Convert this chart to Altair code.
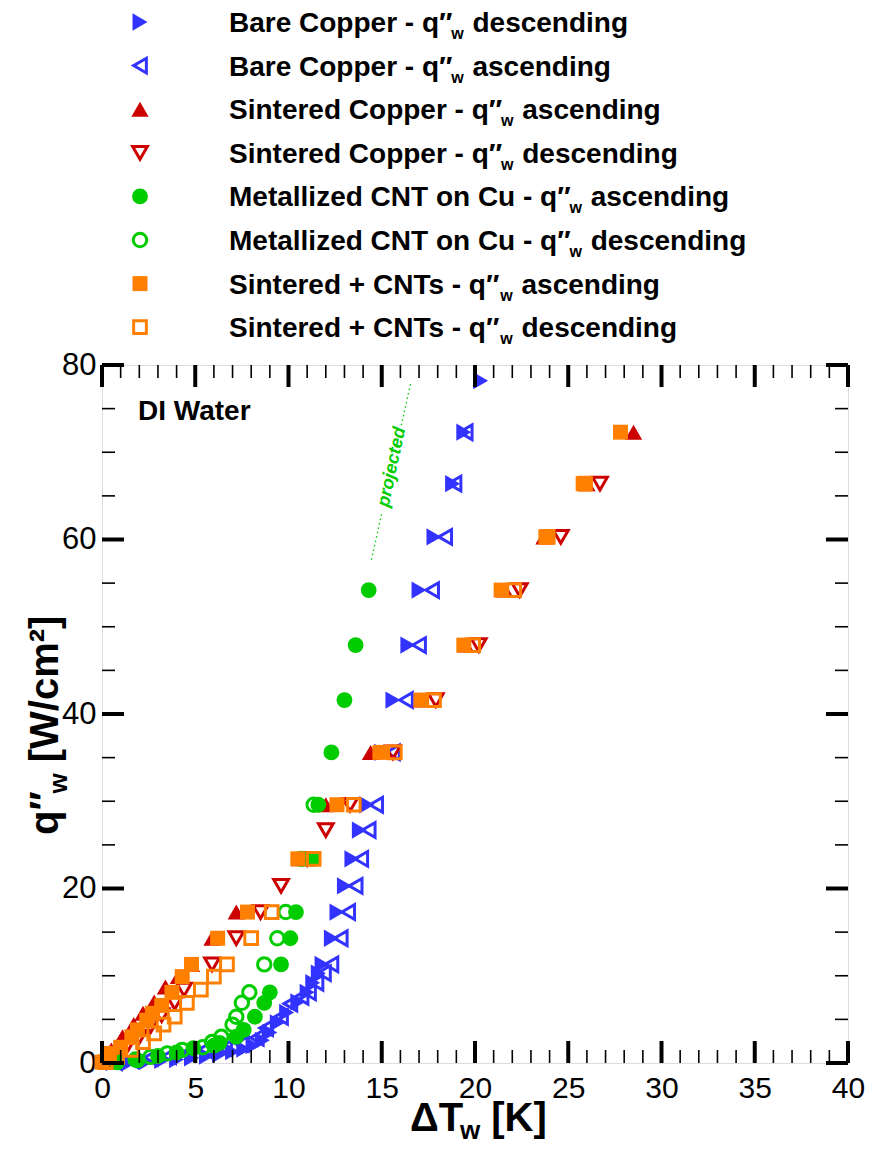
import altair as alt
import pandas as pd

# ---------------- data ----------------
bare_desc_x = [20.3, 19.4, 18.8, 17.8, 17.0, 16.4, 15.6, 15.0, 14.2, 13.8, 13.4, 13.0, 12.6, 12.3, 11.8, 11.6, 11.3,
               11.0, 10.5, 9.9, 9.4, 9.0, 8.6, 8.1, 7.6, 7.0, 6.3, 5.6, 4.8, 4.0, 3.2, 2.4, 1.5, 0.6]
bare_desc_y = [78.2, 72.3, 66.4, 60.3, 54.2, 47.9, 41.6, 35.6, 29.6, 26.7, 23.4, 20.3, 17.3, 14.3, 11.3, 10.3, 9.2,
               8.1, 7.0, 5.8, 4.6, 3.5, 2.6, 2.0, 1.6, 1.3, 1.0, 0.8, 0.6, 0.4, 0.3, 0.2, 0.1, 0.05]

bare_asc_x = [19.5, 18.9, 18.4, 17.7, 17.0, 16.3, 15.6, 14.7, 14.3, 13.9, 13.6, 13.2, 12.8, 12.3, 11.9, 11.5, 11.1,
              10.7, 10.1, 9.6, 8.8, 8.3, 7.5, 6.6, 5.5, 4.6, 3.6, 2.6, 1.6, 0.7]
bare_asc_y = [72.3, 66.4, 60.3, 54.2, 47.9, 41.6, 35.6, 29.6, 26.7, 23.4, 20.3, 17.3, 14.3, 11.3, 10.3, 9.2, 8.1,
              7.6, 6.8, 5.3, 4.0, 2.9, 2.2, 1.7, 1.5, 1.1, 0.8, 0.6, 0.3, 0.1]

sint_asc_x = [28.5, 26.0, 23.7, 21.6, 19.5, 17.1, 14.4, 12.0, 10.6, 7.2, 5.9, 4.8, 4.1, 3.4, 2.8, 2.2, 1.7, 1.1, 0.5, 0.1]
sint_asc_y = [72.3, 66.4, 60.3, 54.2, 47.9, 41.6, 35.6, 29.6, 23.4, 17.3, 14.3, 11.3, 9.9, 8.7, 7.0, 5.7, 4.4, 3.0, 1.5, 0.2]

sint_desc_x = [26.7, 24.6, 22.4, 20.2, 17.9, 15.6, 13.3, 12.0, 11.0, 9.6, 8.5, 7.2, 5.9, 4.4, 3.9, 3.2, 2.6, 2.0, 1.3, 0.6]
sint_desc_y = [66.4, 60.3, 54.2, 47.9, 41.6, 35.6, 29.6, 26.7, 23.4, 20.3, 17.3, 14.3, 11.3, 8.4, 6.9, 5.5, 4.2, 3.0, 1.8, 0.7]

mcnt_asc_x = [14.3, 13.6, 13.0, 12.3, 11.6, 11.3, 10.4, 10.1, 9.6, 9.0, 8.7, 8.2, 7.6, 7.2, 6.3, 6.0, 4.9, 4.0, 3.0, 1.9, 0.8]
mcnt_asc_y = [54.2, 47.9, 41.6, 35.6, 29.6, 23.4, 17.3, 14.3, 11.3, 8.1, 6.9, 5.3, 3.8, 3.0, 2.3, 2.0, 1.7, 1.2, 0.8, 0.3, 0.1]

mcnt_desc_x = [11.35, 10.7, 9.85, 9.4, 8.7, 7.9, 7.5, 7.2, 7.0, 6.4, 5.9, 5.4, 4.3, 3.5, 2.6, 1.8, 0.8]
mcnt_desc_y = [29.6, 23.4, 17.3, 14.3, 11.3, 8.1, 6.9, 5.3, 4.4, 3.0, 2.4, 1.8, 1.5, 1.1, 0.7, 0.4, 0.1]

sc_asc_x = [27.8, 25.8, 23.8, 21.4, 19.4, 17.1, 14.9, 12.6, 10.5, 7.8, 6.2, 4.8, 4.3, 3.75, 3.2, 2.7, 2.4, 1.9, 1.6, 1.0, 0.4, 0.0]
sc_asc_y = [72.3, 66.4, 60.3, 54.2, 47.9, 41.6, 35.6, 29.6, 23.4, 17.3, 14.3, 11.3, 9.9, 8.1, 6.6, 5.7, 4.9, 3.8, 3.0, 1.8, 1.1, 0.1]

sc_desc_x = [25.9, 23.9, 22.1, 19.9, 17.8, 15.7, 13.5, 11.35, 9.1, 8.0, 6.7, 6.0, 5.3, 4.55, 3.9, 3.3, 2.8, 2.2, 1.6, 0.8, 0.2]
sc_desc_y = [66.4, 60.3, 54.2, 47.9, 41.6, 35.6, 29.6, 23.4, 17.3, 14.3, 11.3, 9.9, 8.4, 6.9, 5.3, 4.4, 3.4, 2.4, 1.5, 0.7, 0.1]

# dotted "projected" extension of the Metallized CNT curve (two pieces around the label)
proj_x = [14.45, 15.02, 16.05, 16.55]
proj_y = [57.7, 63.2, 73.1, 77.9]
proj_seg = ["a", "a", "b", "b"]

x_major = [0, 5, 10, 15, 20, 25, 30, 35, 40]
x_minor = [v for v in range(0, 41) if v % 5 != 0]
y_major = [0, 20, 40, 60, 80]
y_minor = [v for v in range(0, 81, 5) if v % 20 != 0]

legend_names = ["Bare Copper - q″", "Bare Copper - q″", "Sintered Copper - q″", "Sintered Copper - q″",
                "Metallized CNT on Cu - q″", "Metallized CNT on Cu - q″", "Sintered + CNTs - q″", "Sintered + CNTs - q″"]
legend_modes = ["descending", "ascending", "ascending", "descending",
                "ascending", "descending", "ascending", "descending"]

# ---------------- styles / layout ----------------
FONT = "Liberation Sans"
BLUE, RED, GREEN, ORANGE = "#3333FF", "#CC0000", "#00CC00", "#FF8000"
W, H = 746, 698

series = [
    (bare_desc_x, bare_desc_y, "triangle-right", True, BLUE),
    (bare_asc_x, bare_asc_y, "triangle-left", False, BLUE),
    (sint_asc_x, sint_asc_y, "triangle-up", True, RED),
    (sint_desc_x, sint_desc_y, "triangle-down", False, RED),
    (mcnt_asc_x, mcnt_asc_y, "circle", True, GREEN),
    (mcnt_desc_x, mcnt_desc_y, "circle", False, GREEN),
    (sc_asc_x, sc_asc_y, "square", True, ORANGE),
    (sc_desc_x, sc_desc_y, "square", False, ORANGE),
]

def msize(shape, filled):
    base = {"circle": 250, "square": 225}.get(shape, 300)
    return base if filled else int(base * 0.72)

# Arial / Liberation Sans Bold advance widths (per 1000 em)
AB = {' ': 278, '-': 333, '+': 584, '[': 333, ']': 333, '/': 278, '″': 400, '²': 333, 'Δ': 612,
      'A': 722, 'B': 722, 'C': 722, 'D': 722, 'I': 278, 'K': 722, 'M': 833, 'N': 722, 'S': 667,
      'T': 611, 'W': 944, 'a': 556, 'c': 556, 'd': 611, 'e': 556, 'g': 611, 'i': 278, 'l': 278,
      'm': 889, 'n': 611, 'o': 611, 'p': 611, 'q': 611, 'r': 389, 's': 556, 't': 333, 'u': 611,
      'w': 778, 'z': 500}

def tw(s, size):
    return sum(AB.get(c, 556) for c in s) * size / 1000.0

xscale = alt.Scale(domain=[0, 40], nice=False, zero=False)
yscale = alt.Scale(domain=[0, 80], nice=False, zero=False)
xenc = alt.X("x:Q", scale=xscale,
             axis=alt.Axis(values=x_major, title=None, ticks=False, tickSize=0, domain=False, grid=False,
                           labelFontSize=30, labelFont=FONT, labelColor="black", labelPadding=10,
                           labelFlush=False))
yenc = alt.Y("y:Q", scale=yscale,
             axis=alt.Axis(values=y_major, title=None, ticks=False, tickSize=0, domain=False, grid=False,
                           labelFontSize=31, labelFont=FONT, labelColor="black", labelPadding=6,
                           labelFlush=False))

layers = []

# projected dotted line + label
proj_df = pd.DataFrame({"x": proj_x, "y": proj_y, "seg": proj_seg})
layers.append(alt.Chart(proj_df).mark_line(color=GREEN, strokeWidth=1.3, strokeDash=[1.5, 3])
              .encode(x=xenc, y=yenc, detail="seg:N"))
layers.append(alt.Chart(pd.DataFrame({"x": [15.55], "y": [68.3], "t": ["projected"]}))
              .mark_text(color=GREEN, font=FONT, fontSize=18, fontStyle="italic", fontWeight="bold",
                         angle=282, align="center", baseline="middle")
              .encode(x=xenc, y=yenc, text="t:N"))

# data series
for xs, ys, shape, filled, color in series:
    df = pd.DataFrame({"x": xs, "y": ys})
    kw = dict(shape=shape, filled=filled, color=color, size=msize(shape, filled), opacity=1)
    if not filled:
        kw["strokeWidth"] = 3
    layers.append(alt.Chart(df).mark_point(**kw).encode(x=xenc, y=yenc))

# inward ticks on all four sides
def xticks(vals, length, width):
    df = pd.DataFrame({"x": vals})
    bot = alt.Chart(df).mark_rule(color="black", strokeWidth=width).encode(
        x=xenc, y=alt.value(H), y2=alt.value(H - length))
    top = alt.Chart(df).mark_rule(color="black", strokeWidth=width).encode(
        x=xenc, y=alt.value(0), y2=alt.value(length))
    return [bot, top]

def yticks(vals, length, width):
    df = pd.DataFrame({"y": vals})
    left = alt.Chart(df).mark_rule(color="black", strokeWidth=width).encode(
        y=yenc, x=alt.value(0), x2=alt.value(length))
    right = alt.Chart(df).mark_rule(color="black", strokeWidth=width).encode(
        y=yenc, x=alt.value(W), x2=alt.value(W - length))
    return [left, right]

layers += xticks(x_minor, 13, 1.6) + xticks(x_major, 22, 4)
layers += yticks(y_minor, 13, 1.6) + yticks(y_major, 22, 4)

# legend (above the plot), in pixels relative to the plot's top-left corner
LEG_FS, SUB_FS = 28, 16
row0, rstep = -343, 43.6
mark_x, text_x = 38, 127
leg_rows = []
for i, (name, mode) in enumerate(zip(legend_names, legend_modes)):
    cy = row0 + i * rstep
    xs_, ys_, shape, filled, color = series[i]
    mdf = pd.DataFrame({"px": [mark_x], "py": [cy]})
    kw = dict(shape=shape, filled=filled, color=color, size=msize(shape, filled), opacity=1)
    if not filled:
        kw["strokeWidth"] = 3
    layers.append(alt.Chart(mdf).mark_point(**kw).encode(
        x=alt.X("px:Q", scale=None), y=alt.Y("py:Q", scale=None)))
    x1 = text_x + tw(name, LEG_FS) + 1
    x2 = x1 + tw("w", SUB_FS) + tw(" ", LEG_FS) + 1
    leg_rows += [
        {"px": text_x, "py": cy + 10, "t": name, "fs": LEG_FS, "ang": 0},
        {"px": x1, "py": cy + 17, "t": "w", "fs": SUB_FS, "ang": 0},
        {"px": x2, "py": cy + 10, "t": mode, "fs": LEG_FS, "ang": 0},
    ]

# axis titles and annotation
TF, TSUB = 40, 26
xt0, xtb = 308, 766
xw = xt0 + tw("ΔT", TF) + 1
leg_rows += [
    {"px": xt0, "py": xtb, "t": "ΔT", "fs": TF, "ang": 0},
    {"px": xw, "py": xtb + 8, "t": "w", "fs": TSUB, "ang": 0},
    {"px": xw + tw("w", TSUB) + tw(" ", TF), "py": xtb, "t": "[K]", "fs": TF, "ang": 0},
]
yt0, ytb = 470, -44
yw = yt0 - tw("q″", TF) - 1
leg_rows += [
    {"px": ytb, "py": yt0, "t": "q″", "fs": TF, "ang": 270},
    {"px": ytb + 9, "py": yw, "t": "w", "fs": TSUB, "ang": 270},
    {"px": ytb, "py": yw - tw("w", TSUB) - tw(" ", TF), "t": "[W/cm²]", "fs": TF, "ang": 270},
]
leg_rows.append({"px": 36, "py": 55, "t": "DI Water", "fs": 28, "ang": 0})

txt_df = pd.DataFrame(leg_rows)
layers.append(alt.Chart(txt_df).mark_text(font=FONT, fontWeight="bold", color="black",
                                          align="left", baseline="alphabetic").encode(
    x=alt.X("px:Q", scale=None), y=alt.Y("py:Q", scale=None), text="t:N",
    size=alt.Size("fs:Q", scale=None), angle=alt.Angle("ang:Q", scale=None)))

chart = (alt.layer(*layers)
         .properties(width=W, height=H,
                     autosize=alt.AutoSizeParams(type="none"),
                     padding={"left": 94, "top": 357, "right": 17, "bottom": 82})
         .configure_view(stroke="black", strokeWidth=4)
         .configure(background="white", font=FONT))

chart.save("out.html", embed_options={"renderer": "svg", "actions": False})
